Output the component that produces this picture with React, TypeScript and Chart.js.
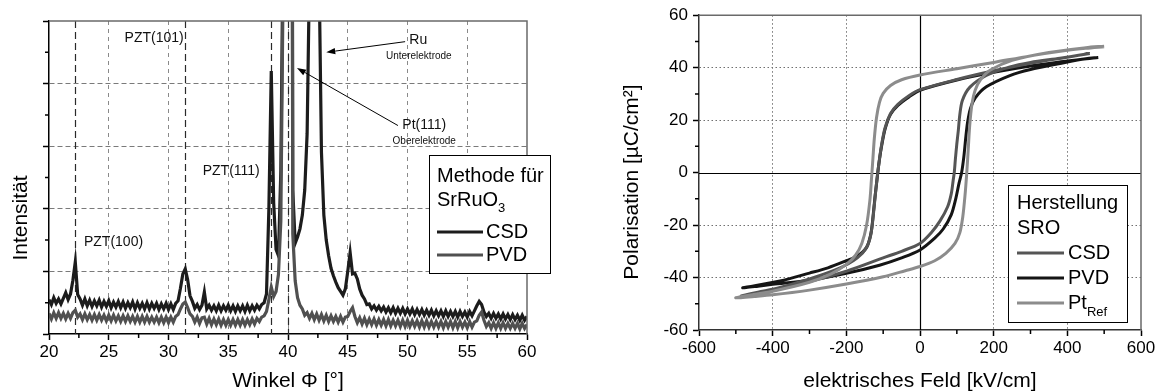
import React, { useEffect, useRef } from 'react';
import { Chart, registerables } from 'chart.js';

Chart.register(...registerables);

const FONT = '"Liberation Sans", Arial, Helvetica, sans-serif';

// ---------------- XRD pattern (left panel) ----------------
const ANGLE_START = 20;
const ANGLE_STEP = 0.2;
const xrdAngleTicks = [20, 25, 30, 35, 40, 45, 50, 55, 60];
const xrdAngleMinorTicks = [22.5, 27.5, 32.5, 37.5, 42.5, 47.5, 52.5, 57.5];
const xrdIntensityTicks = [0, 1, 2, 3, 4, 5];
const xrdIntensityMinorTicks = [0.5, 1.5, 2.5, 3.5, 4.5];
const xrdPeakLines = [22.2, 31.4, 38.6, 40.0];

const xrdCsd = [
  0.55, 0.47, 0.58, 0.49, 0.56, 0.48, 0.57, 0.66, 0.55, 0.64,
  0.86, 1.15, 0.63, 0.56, 0.46, 0.56, 0.45, 0.54, 0.44, 0.53,
  0.45, 0.54, 0.43, 0.52, 0.44, 0.53, 0.42, 0.51, 0.43, 0.52,
  0.42, 0.51, 0.41, 0.50, 0.42, 0.51, 0.40, 0.50, 0.41, 0.49,
  0.40, 0.50, 0.40, 0.49, 0.41, 0.49, 0.39, 0.48, 0.40, 0.49,
  0.39, 0.48, 0.39, 0.49, 0.53, 0.73, 0.96, 1.04, 0.87, 0.61,
  0.52, 0.41, 0.47, 0.39, 0.46, 0.67, 0.40, 0.46, 0.38, 0.45,
  0.37, 0.46, 0.37, 0.45, 0.38, 0.46, 0.37, 0.45, 0.36, 0.45,
  0.37, 0.45, 0.36, 0.46, 0.37, 0.45, 0.38, 0.46, 0.40, 0.47,
  0.50, 0.64, 2.0, 4.2, 2.1, 1.35, 1.25, 2.6, 6.5, 45,
  60, 25, 2.3, 1.45, 1.55, 1.68, 1.9, 2.3, 3.2, 5.8,
  30, 60, 30, 5.8, 2.9, 1.9, 1.5, 1.25, 1.05, 0.93,
  0.83, 0.74, 0.68, 0.62, 0.72, 1.0, 1.3, 0.96, 0.97, 0.88,
  0.72, 0.62, 0.56, 0.47, 0.48, 0.40, 0.45, 0.38, 0.44, 0.37,
  0.43, 0.35, 0.42, 0.34, 0.42, 0.33, 0.41, 0.33, 0.41, 0.32,
  0.40, 0.32, 0.40, 0.31, 0.39, 0.31, 0.39, 0.30, 0.38, 0.30,
  0.38, 0.29, 0.37, 0.29, 0.37, 0.28, 0.37, 0.28, 0.36, 0.28,
  0.36, 0.27, 0.36, 0.28, 0.35, 0.27, 0.36, 0.29, 0.37, 0.45,
  0.52, 0.47, 0.35, 0.28, 0.33, 0.25, 0.33, 0.25, 0.32, 0.24,
  0.32, 0.24, 0.31, 0.23, 0.31, 0.23, 0.30, 0.22, 0.30, 0.22,
  0.28,
];

const xrdPvd = [
  0.33, 0.24, 0.34, 0.25, 0.34, 0.25, 0.33, 0.24, 0.33, 0.25,
  0.34, 0.38, 0.27, 0.32, 0.23, 0.32, 0.23, 0.31, 0.22, 0.31,
  0.22, 0.31, 0.22, 0.30, 0.21, 0.30, 0.21, 0.30, 0.21, 0.29,
  0.20, 0.29, 0.20, 0.29, 0.20, 0.28, 0.19, 0.28, 0.19, 0.28,
  0.19, 0.28, 0.19, 0.27, 0.19, 0.27, 0.18, 0.27, 0.18, 0.27,
  0.18, 0.27, 0.19, 0.28, 0.31, 0.40, 0.48, 0.51, 0.42, 0.32,
  0.28, 0.19, 0.27, 0.17, 0.26, 0.27, 0.16, 0.25, 0.15, 0.24,
  0.15, 0.24, 0.14, 0.23, 0.14, 0.23, 0.14, 0.23, 0.14, 0.23,
  0.14, 0.23, 0.14, 0.23, 0.15, 0.24, 0.16, 0.25, 0.20, 0.27,
  0.29, 0.36, 0.55, 0.75, 0.60, 0.68, 0.95, 1.8, 5.8, 45,
  60, 22, 1.6, 0.85, 0.58, 0.46, 0.40, 0.30, 0.34, 0.25,
  0.33, 0.23, 0.32, 0.22, 0.31, 0.21, 0.30, 0.20, 0.29, 0.20,
  0.28, 0.19, 0.28, 0.19, 0.27, 0.28, 0.36, 0.42, 0.28, 0.18,
  0.26, 0.16, 0.25, 0.15, 0.24, 0.15, 0.24, 0.14, 0.23, 0.14,
  0.23, 0.13, 0.23, 0.13, 0.22, 0.13, 0.22, 0.12, 0.22, 0.12,
  0.22, 0.12, 0.21, 0.12, 0.21, 0.11, 0.21, 0.11, 0.21, 0.11,
  0.20, 0.11, 0.20, 0.11, 0.20, 0.10, 0.20, 0.11, 0.20, 0.10,
  0.20, 0.10, 0.20, 0.11, 0.19, 0.10, 0.20, 0.11, 0.19, 0.21,
  0.30, 0.35, 0.22, 0.12, 0.18, 0.09, 0.18, 0.09, 0.18, 0.09,
  0.18, 0.09, 0.17, 0.09, 0.17, 0.09, 0.17, 0.08, 0.17, 0.09,
  0.15,
];

// ---------------- Hysteresis loops (right panel) ----------------
const fieldMinorTicks = [-500, -300, -100, 100, 300, 500];
const polMinorTicks = [-50, -30, -10, 10, 30, 50];

const ptRefField = [
  500, 450, 400, 300, 200, 100, 0, -50, -80, -100, -110, -118, -124, -128, -132, -136, -145, -158, -175, -200, -240, -300, -400, -500,
  -450, -400, -300, -200, -100, -40, 0, 40, 70, 95, 108, 116, 122, 127, 131, 135, 141, 150, 165, 190, 250, 350, 450, 500,
];
const ptRefPol = [
  48, 47.4, 46.6, 44.5, 42, 39.6, 37.2, 35.4, 33.2, 30.2, 26.8, 21, 13, 5, -3, -10.5, -20, -27, -31.5, -35, -38.5, -41.8, -45.2, -47.7,
  -47.2, -46.6, -44.8, -42.5, -39.7, -37.4, -35.8, -33.6, -30.8, -27, -23, -17, -9, 0, 9, 18, 26, 31.5, 35.5, 39, 42.8, 45.8, 47.6, 48.2,
];

const csdField = [
  461, 400, 300, 200, 100, 0, -30, -60, -80, -95, -105, -112, -118, -123, -128, -134, -145, -170, -220, -300, -400, -485,
  -440, -400, -300, -200, -100, -50, 0, 30, 54, 75, 85, 90, 93, 96, 100, 104, 108, 115, 135, 180, 244, 300, 380, 461,
];
const csdPol = [
  45.4, 44, 41.7, 38.8, 35.5, 31.6, 29.3, 26, 22.5, 17, 10, 3, -4, -11, -18, -24, -28.5, -32.5, -36.5, -40.5, -44.5, -47,
  -45.6, -44.5, -41.5, -37.6, -32.5, -30, -27, -23, -18.5, -13, -8, -3, 0, 5, 11, 16, 22, 27.5, 32.5, 37, 40.3, 42, 43.6, 45.4,
];

const pvdField = [
  484, 450, 400, 300, 200, 100, 0, -30, -60, -80, -95, -105, -112, -117, -122, -127, -133, -145, -170, -200, -250, -300, -380, -481,
  -440, -400, -300, -200, -110, -50, 0, 40, 63, 85, 97, 106, 113, 119, 124, 129, 137, 150, 180, 244, 300, 380, 440, 484,
];
const pvdPol = [
  43.9, 43.4, 42.5, 40.6, 38.2, 35.3, 31.4, 28.8, 25.6, 22.2, 16.5, 9.5, 3, -3, -9, -16, -23, -28.5, -31.8, -33.6, -36.3, -38.3, -41.3, -43.9,
  -43.3, -42.6, -41, -38.4, -35.3, -32.5, -29.5, -25, -21.5, -16, -10, -4, 0, 6, 13, 19, 24.5, 28.5, 32.7, 37, 39.3, 41.6, 43.2, 43.9,
];

const COLORS = {
  xrdCsd: '#1c1c1c',
  xrdPvd: '#505050',
  csd: '#555555',
  pvd: '#151515',
  ptRef: '#8c8c8c',
};

function toPoints(xs: number[], ys: number[]) {
  return xs.map((x, i) => ({ x, y: ys[i] }));
}

function drawSubText(ctx: CanvasRenderingContext2D, main: string, sub: string, x: number, y: number, size: number, subSize: number, drop: number) {
  ctx.font = `${size}px ${FONT}`;
  ctx.textAlign = 'left';
  ctx.textBaseline = 'middle';
  ctx.fillText(main, x, y);
  const w = ctx.measureText(main).width;
  if (sub) {
    ctx.font = `${subSize}px ${FONT}`;
    ctx.fillText(sub, x + w, y + drop);
  }
}

function drawArrow(ctx: CanvasRenderingContext2D, x1: number, y1: number, x2: number, y2: number) {
  ctx.save();
  ctx.strokeStyle = '#000';
  ctx.fillStyle = '#000';
  ctx.lineWidth = 1;
  const ang = Math.atan2(y2 - y1, x2 - x1);
  const hl = 9, hw = 3.2;
  const bx = x2 - hl * Math.cos(ang), by = y2 - hl * Math.sin(ang);
  ctx.beginPath();
  ctx.moveTo(x1, y1);
  ctx.lineTo(bx, by);
  ctx.stroke();
  ctx.beginPath();
  ctx.moveTo(x2, y2);
  ctx.lineTo(bx + hw * Math.sin(ang), by - hw * Math.cos(ang));
  ctx.lineTo(bx - hw * Math.sin(ang), by + hw * Math.cos(ang));
  ctx.closePath();
  ctx.fill();
  ctx.restore();
}

function drawFrame(chart: any) {
  const { ctx, chartArea: a } = chart;
  ctx.save();
  ctx.strokeStyle = '#6a6a6a';
  ctx.lineWidth = 1.5;
  ctx.beginPath();
  ctx.moveTo(a.left, a.top);
  ctx.lineTo(a.right, a.top);
  ctx.lineTo(a.right, a.bottom);
  ctx.stroke();
  ctx.restore();
}

function drawMinorTicks(chart: any, xMinor: number[], yMinor: number[]) {
  const { ctx, chartArea: a, scales } = chart;
  ctx.save();
  ctx.strokeStyle = '#000';
  ctx.lineWidth = 1.5;
  ctx.beginPath();
  xMinor.forEach((v) => {
    const px = scales.x.getPixelForValue(v);
    ctx.moveTo(px, a.bottom);
    ctx.lineTo(px, a.bottom + 4);
  });
  yMinor.forEach((v) => {
    const py = scales.y.getPixelForValue(v);
    ctx.moveTo(a.left - 4, py);
    ctx.lineTo(a.left, py);
  });
  ctx.stroke();
  ctx.restore();
}

const xrdDecor = {
  id: 'xrdDecor',
  beforeDatasetsDraw(chart: any) {
    const { ctx, chartArea: a, scales } = chart;
    ctx.save();
    ctx.strokeStyle = '#2a2a2a';
    ctx.lineWidth = 1.2;
    ctx.setLineDash([7, 4]);
    xrdPeakLines.forEach((v) => {
      const px = Math.round(scales.x.getPixelForValue(v)) + 0.5;
      ctx.beginPath();
      ctx.moveTo(px, a.top);
      ctx.lineTo(px, a.bottom);
      ctx.stroke();
    });
    ctx.restore();
  },
  afterDraw(chart: any) {
    const { ctx, chartArea: a, scales } = chart;
    const X = (v: number) => scales.x.getPixelForValue(v);
    const Y = (v: number) => scales.y.getPixelForValue(v);
    drawFrame(chart);
    drawMinorTicks(chart, xrdAngleMinorTicks, xrdIntensityMinorTicks);

    ctx.save();
    ctx.fillStyle = '#111';
    ctx.textAlign = 'center';
    ctx.textBaseline = 'middle';
    ctx.font = `14px ${FONT}`;
    ctx.fillText('PZT(100)', X(25.4), Y(1.47));
    ctx.fillText('PZT(101)', X(28.8), Y(4.73));
    ctx.fillText('PZT(111)', X(35.25), Y(2.6));
    ctx.fillText('Ru', X(50.9), Y(4.7));
    ctx.fillText('Pt(111)', X(51.4), Y(3.34));
    ctx.font = `10px ${FONT}`;
    ctx.fillText('Unterelektrode', X(50.95), Y(4.44));
    ctx.fillText('Oberelektrode', X(51.4), Y(3.08));
    ctx.restore();

    drawArrow(ctx, X(49.8), Y(4.67), X(43.2), Y(4.5));
    drawArrow(ctx, X(49.2), Y(3.33), X(40.75), Y(4.25));

    // legend
    ctx.save();
    ctx.fillStyle = '#fff';
    ctx.strokeStyle = '#000';
    ctx.lineWidth = 1;
    ctx.fillRect(429, 155, 121, 118);
    ctx.strokeRect(429.5, 155.5, 121, 118);
    ctx.fillStyle = '#000';
    drawSubText(ctx, 'Methode für', '', 437, 176, 20, 13, 0);
    drawSubText(ctx, 'SrRuO', '3', 437, 200, 20, 13, 8);
    const items = [
      { label: 'CSD', color: COLORS.xrdCsd, y: 232 },
      { label: 'PVD', color: COLORS.xrdPvd, y: 255 },
    ];
    items.forEach((it) => {
      ctx.strokeStyle = it.color;
      ctx.lineWidth = 3;
      ctx.beginPath();
      ctx.moveTo(437, it.y);
      ctx.lineTo(483, it.y);
      ctx.stroke();
      ctx.fillStyle = '#000';
      drawSubText(ctx, it.label, '', 486, it.y, 20, 13, 0);
    });
    ctx.restore();

    // axis titles
    ctx.save();
    ctx.fillStyle = '#000';
    ctx.textAlign = 'center';
    ctx.textBaseline = 'middle';
    ctx.font = `21px ${FONT}`;
    ctx.fillText('Winkel Φ [°]', (a.left + a.right) / 2, 381);
    ctx.translate(21.5, 218);
    ctx.rotate(-Math.PI / 2);
    ctx.fillText('Intensität', 0, 0);
    ctx.restore();
  },
};

const loopDecor = {
  id: 'loopDecor',
  beforeDatasetsDraw(chart: any) {
    const { ctx, chartArea: a, scales } = chart;
    ctx.save();
    ctx.strokeStyle = '#000';
    ctx.lineWidth = 1.2;
    const px = Math.round(scales.x.getPixelForValue(0)) + 0.5;
    const py = Math.round(scales.y.getPixelForValue(0)) + 0.5;
    ctx.beginPath();
    ctx.moveTo(px, a.top);
    ctx.lineTo(px, a.bottom);
    ctx.moveTo(a.left, py);
    ctx.lineTo(a.right, py);
    ctx.stroke();
    ctx.restore();
  },
  afterDraw(chart: any) {
    const { ctx, chartArea: a } = chart;
    drawFrame(chart);
    drawMinorTicks(chart, fieldMinorTicks, polMinorTicks);

    // legend
    ctx.save();
    ctx.fillStyle = '#fff';
    ctx.strokeStyle = '#000';
    ctx.lineWidth = 1;
    ctx.fillRect(433, 185, 119, 137);
    ctx.strokeRect(433.5, 185.5, 119, 137);
    ctx.fillStyle = '#000';
    drawSubText(ctx, 'Herstellung', '', 442, 203, 20, 13, 0);
    drawSubText(ctx, 'SRO', '', 442, 228, 20, 13, 0);
    const items = [
      { label: 'CSD', sub: '', color: COLORS.csd, y: 253 },
      { label: 'PVD', sub: '', color: COLORS.pvd, y: 278 },
      { label: 'Pt', sub: 'Ref', color: COLORS.ptRef, y: 303 },
    ];
    items.forEach((it) => {
      ctx.strokeStyle = it.color;
      ctx.lineWidth = 3;
      ctx.beginPath();
      ctx.moveTo(442, it.y);
      ctx.lineTo(489, it.y);
      ctx.stroke();
      ctx.fillStyle = '#000';
      drawSubText(ctx, it.label, it.sub, 493, it.y, 20, 13, 9);
    });
    ctx.restore();

    ctx.save();
    ctx.fillStyle = '#000';
    ctx.textAlign = 'center';
    ctx.textBaseline = 'middle';
    ctx.font = `21px ${FONT}`;
    ctx.fillText('elektrisches Feld [kV/cm]', (a.left + a.right) / 2, 381);
    ctx.translate(57, 182);
    ctx.rotate(-Math.PI / 2);
    ctx.fillText('Polarisation [µC/cm²]', 0, 0);
    ctx.restore();
  },
};

const transparent = 'rgba(0,0,0,0)';

function XrdChart() {
  const ref = useRef<HTMLCanvasElement>(null);
  useEffect(() => {
    const angles = xrdCsd.map((_, i) => Math.round((ANGLE_START + i * ANGLE_STEP) * 10) / 10);
    const chart = new Chart(ref.current as HTMLCanvasElement, {
      type: 'line',
      data: {
        datasets: [
          { label: 'PVD', data: toPoints(angles, xrdPvd), borderColor: COLORS.xrdPvd, borderWidth: 3.2, pointRadius: 0, tension: 0, fill: false },
          { label: 'CSD', data: toPoints(angles, xrdCsd), borderColor: COLORS.xrdCsd, borderWidth: 3.2, pointRadius: 0, tension: 0, fill: false },
        ],
      },
      options: {
        responsive: false,
        animation: false,
        devicePixelRatio: 1,
        events: [],
        layout: { padding: { top: 21, right: 48, left: 0, bottom: 0 } },
        plugins: { legend: { display: false }, tooltip: { enabled: false } },
        scales: {
          x: {
            type: 'linear',
            min: 20,
            max: 60,
            afterBuildTicks: (s: any) => { s.ticks = xrdAngleTicks.map((v) => ({ value: v })); },
            afterFit: (s: any) => { s.height = 58; },
            ticks: { font: { size: 17, family: FONT }, color: '#000', padding: 2, maxRotation: 0, autoSkip: false },
            grid: {
              color: (c: any) => (c.tick && (c.tick.value === 20 || c.tick.value === 60) ? transparent : '#8a8a8a'),
              lineWidth: 1,
              tickLength: 6,
              tickColor: '#000',
              tickWidth: 1.5,
            },
            border: { color: '#000', width: 1.5, dash: [4, 4] },
          },
          y: {
            type: 'linear',
            min: 0,
            max: 5,
            afterBuildTicks: (s: any) => { s.ticks = xrdIntensityTicks.map((v) => ({ value: v })); },
            afterFit: (s: any) => { s.width = 49; },
            ticks: { callback: () => '', font: { size: 17, family: FONT } },
            grid: {
              color: (c: any) => (c.tick && (c.tick.value === 0 || c.tick.value === 5) ? transparent : '#7a7a7a'),
              lineWidth: 1,
              tickLength: 6,
              tickColor: '#000',
              tickWidth: 1.5,
            },
            border: { color: '#000', width: 1.5, dash: [5, 3] },
          },
        },
      },
      plugins: [xrdDecor],
    } as any);
    return () => chart.destroy();
  }, []);
  return <canvas ref={ref} width={575} height={392} style={{ position: 'absolute', left: 0, top: 0, width: 575, height: 392 }} />;
}

function LoopChart() {
  const ref = useRef<HTMLCanvasElement>(null);
  useEffect(() => {
    const chart = new Chart(ref.current as HTMLCanvasElement, {
      type: 'line',
      data: {
        datasets: [
          { label: 'Pt Ref', data: toPoints(ptRefField, ptRefPol), borderColor: COLORS.ptRef, borderWidth: 3, pointRadius: 0, tension: 0.3, fill: false },
          { label: 'CSD', data: toPoints(csdField, csdPol), borderColor: COLORS.csd, borderWidth: 3, pointRadius: 0, tension: 0.3, fill: false },
          { label: 'PVD', data: toPoints(pvdField, pvdPol), borderColor: COLORS.pvd, borderWidth: 3, pointRadius: 0, tension: 0.3, fill: false },
        ],
      },
      options: {
        responsive: false,
        animation: false,
        devicePixelRatio: 1,
        events: [],
        layout: { padding: { top: 15, right: 17, left: 0, bottom: 0 } },
        plugins: { legend: { display: false }, tooltip: { enabled: false } },
        scales: {
          x: {
            type: 'linear',
            min: -600,
            max: 600,
            ticks: { stepSize: 200, font: { size: 17, family: FONT }, color: '#000', padding: 2, maxRotation: 0, autoSkip: false },
            afterFit: (s: any) => { s.height = 62; },
            grid: {
              color: (c: any) => (c.tick && (c.tick.value === 0 || Math.abs(c.tick.value) === 600) ? transparent : '#707070'),
              lineWidth: 1,
              tickLength: 6,
              tickColor: '#000',
              tickWidth: 1.5,
            },
            border: { color: '#333', width: 1.5, dash: [1.5, 2.5] },
          },
          y: {
            type: 'linear',
            min: -60,
            max: 60,
            ticks: { stepSize: 20, font: { size: 17, family: FONT }, color: '#000', padding: 5 },
            afterFit: (s: any) => { s.width = 124; },
            grid: {
              color: (c: any) => (c.tick && (c.tick.value === 0 || Math.abs(c.tick.value) === 60) ? transparent : '#707070'),
              lineWidth: 1,
              tickLength: 6,
              tickColor: '#000',
              tickWidth: 1.5,
            },
            border: { color: '#333', width: 1.5, dash: [1.5, 2.5] },
          },
        },
      },
      plugins: [loopDecor],
    } as any);
    return () => chart.destroy();
  }, []);
  return <canvas ref={ref} width={583} height={392} style={{ position: 'absolute', left: 575, top: 0, width: 583, height: 392 }} />;
}

export default function App() {
  return (
    <div style={{ position: 'fixed', left: 0, top: 0, width: 1158, height: 392, background: '#fff', overflow: 'hidden' }}>
      <XrdChart />
      <LoopChart />
    </div>
  );
}
